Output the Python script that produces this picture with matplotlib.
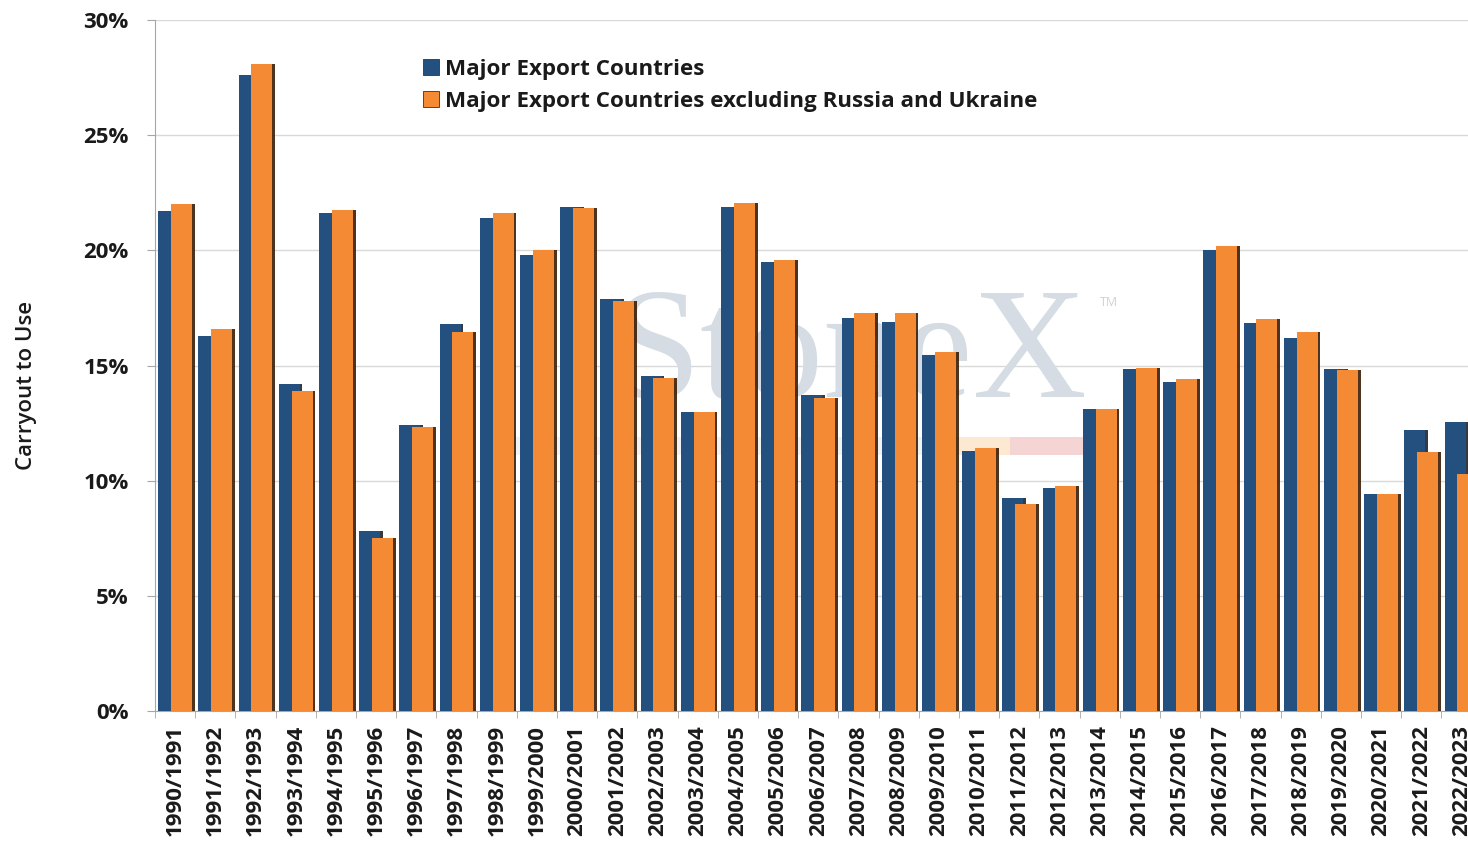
import matplotlib
matplotlib.use("Agg")
import matplotlib.pyplot as plt
import matplotlib.patheffects as pe
from matplotlib.patches import Rectangle
from matplotlib.ticker import FuncFormatter
import numpy as np

years = ["1990/1991", "1991/1992", "1992/1993", "1993/1994", "1994/1995",
         "1995/1996", "1996/1997", "1997/1998", "1998/1999", "1999/2000",
         "2000/2001", "2001/2002", "2002/2003", "2003/2004", "2004/2005",
         "2005/2006", "2006/2007", "2007/2008", "2008/2009", "2009/2010",
         "2010/2011", "2011/2012", "2012/2013", "2013/2014", "2014/2015",
         "2015/2016", "2016/2017", "2017/2018", "2018/2019", "2019/2020",
         "2020/2021", "2021/2022", "2022/2023"]

major = [21.7, 16.3, 27.6, 14.2, 21.6, 7.8, 12.4, 16.8, 21.4, 19.8,
         21.9, 17.9, 14.55, 13.0, 21.9, 19.5, 13.7, 17.05, 16.9, 15.45,
         11.3, 9.25, 9.7, 13.1, 14.85, 14.3, 20.0, 16.85, 16.2, 14.85,
         9.4, 12.2, 12.55]

major_ex_ru_ua = [22.0, 16.6, 28.1, 13.9, 21.75, 7.5, 12.35, 16.45, 21.6, 20.0,
                  21.85, 17.8, 14.45, 13.0, 22.05, 19.6, 13.6, 17.3, 17.3, 15.6,
                  11.4, 9.0, 9.75, 13.1, 14.9, 14.4, 20.2, 17.0, 16.45, 14.8,
                  9.4, 11.25, 10.3]

blue = "#24507f"
orange = "#f58a35"
W, H = 1468, 849

plt.rcParams['font.family'] = ['Open Sans', 'DejaVu Sans']

fig = plt.figure(figsize=(W / 100, H / 100), dpi=100)
ax = fig.add_axes([155 / W, 1 - 711 / H, 33 * 40.2 / W, 691 / H])

x = np.arange(len(years))
shadow_b = [pe.SimplePatchShadow(offset=(2, 0), shadow_rgbFace="#111820", alpha=0.85), pe.Normal()]
shadow_o = [pe.SimplePatchShadow(offset=(2, 0), shadow_rgbFace="#3b1d05", alpha=0.9), pe.Normal()]
bb = ax.bar(x - 0.16, major, 0.52, color=blue, zorder=3, label="Major Export Countries")
ob = ax.bar(x + 0.16, major_ex_ru_ua, 0.52, color=orange, zorder=4,
            label="Major Export Countries excluding Russia and Ukraine")
for p in bb:
    p.set_path_effects(shadow_b)
for p in ob:
    p.set_path_effects(shadow_o)

ax.set_xlim(-0.5, len(years) - 0.5)
ax.set_ylim(0, 30)
ax.set_yticks(np.arange(0, 31, 5))
ax.yaxis.set_major_formatter(FuncFormatter(lambda v, _: f"{v:.0f}%"))
ax.grid(axis="y", color="#d9d9d9", lw=1, zorder=0)
ax.set_axisbelow(True)

ax.set_xticks(x)
ax.set_xticklabels(years, rotation=90, va="top")
ax.set_xticks(np.arange(-0.5, len(years), 1), minor=True)
ax.tick_params(axis="x", which="major", length=0, pad=10, labelsize=16, labelcolor="#1a1a1a")
ax.tick_params(axis="x", which="minor", length=5, color="#a6a6a6")
ax.tick_params(axis="y", length=6, color="#a6a6a6", pad=13, labelsize=16, labelcolor="#1a1a1a")
for lab in ax.get_xticklabels() + ax.get_yticklabels():
    lab.set_fontweight("bold")

for s in ["top", "right"]:
    ax.spines[s].set_visible(False)
for s in ["left", "bottom"]:
    ax.spines[s].set_color("#a6a6a6")

# faint logo watermark behind the bars
ax.text(1087 / W, 1 - 397 / H, "StoneX", transform=fig.transFigure, ha="right", va="baseline",
        family=["Liberation Serif", "DejaVu Serif"], fontsize=114, color="#d6dce3", zorder=1)
ax.text(1100 / W, 1 - 302 / H, "TM", transform=fig.transFigure, ha="left", va="center",
        fontsize=9, color="#cdd2d9", zorder=1)
for x0, x1, c in [(515, 955, "#f1f2f4"), (955, 1010, "#fde9d2"), (1010, 1085, "#f5d4d4")]:
    ax.add_patch(Rectangle((x0 / W, 1 - 455 / H), (x1 - x0) / W, 18 / H,
                           transform=fig.transFigure, color=c, zorder=1, lw=0))

leg = ax.legend(loc="upper left", bbox_to_anchor=(423 / W, 1 - 59 / H),
                bbox_transform=fig.transFigure, frameon=False, fontsize=16.1,
                handlelength=0.72, handleheight=0.72, handletextpad=0.28,
                labelspacing=0.5, borderaxespad=0, borderpad=0)
for t in leg.get_texts():
    t.set_fontweight("bold")
    t.set_color("#1a1a1a")
for h in leg.legend_handles:
    h.set_path_effects([])
    h.set_edgecolor("#333333")
    h.set_linewidth(0.6)

fig.text(27 / W, 1 - 385 / H, "Carryout to Use", rotation=90, ha="center", va="center",
         fontsize=16, fontweight="semibold", color="#1a1a1a")

fig.savefig("out.png", dpi=100)
